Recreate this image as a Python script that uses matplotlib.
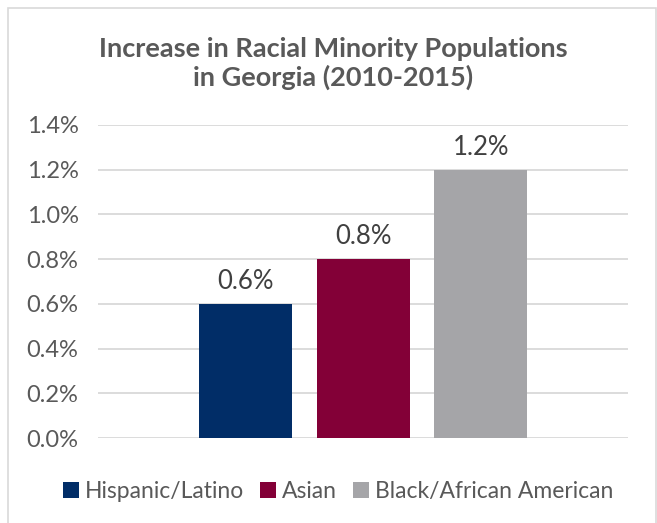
import matplotlib.pyplot as plt
from matplotlib.patches import Rectangle
from matplotlib.ticker import FuncFormatter

# percent increase 2010-2015, one series per group
groups = ['Hispanic/Latino', 'Asian', 'Black/African American']
increase = [0.6, 0.8, 1.2]
colors = ['#012D67', '#830037', '#A5A5A8']
yticks = [0.0, 0.2, 0.4, 0.6, 0.8, 1.0, 1.2, 1.4]

plt.rcParams['font.family'] = ['Lato', 'DejaVu Sans']
txt = '#595959'

fig = plt.figure(figsize=(6.57, 5.23), dpi=100)
ax = fig.add_axes([0.1492, 0.1625, 0.8067, 0.5985])

# light outer frame
fig.patches.append(Rectangle((8 / 657, -0.01), (648 / 657), 1 - 8 / 523 + 0.01,
                             transform=fig.transFigure, fill=False,
                             edgecolor='#D9D9D9', lw=1.2))

pitch = 1.265
for i, (g, v, c) in enumerate(zip(groups, increase, colors)):
    x = (i - 1) * pitch
    ax.bar(x, v, width=1.0, color=c, label=g, zorder=3)
    ax.text(x, v + 0.045, '%.1f%%' % v, ha='center', va='bottom',
            fontsize=18.5, color='#404040')

ax.set_xlim(-2.85, 2.85)
ax.set_ylim(0, 1.4)
ax.set_yticks(yticks)
ax.yaxis.set_major_formatter(FuncFormatter(lambda v, p: '%.1f%%' % v))
ax.grid(axis='y', color='#D9D9D9', lw=1.3, zorder=0)
ax.set_xticks([])
for s in ax.spines.values():
    s.set_visible(False)
ax.tick_params(axis='y', length=0, pad=14, labelsize=17, labelcolor=txt)

fig.text(0.507, 0.879, 'Increase in Racial Minority Populations\nin Georgia (2010-2015)',
         ha='center', va='center', fontsize=19.5, fontweight='bold', color=txt,
         linespacing=1.15)

leg = fig.legend(loc='center', bbox_to_anchor=(0.515, 0.061), ncol=3, frameon=False,
                 fontsize=16.5, handlelength=0.7, handleheight=0.7, handletextpad=0.25,
                 columnspacing=0.7)
for t in leg.get_texts():
    t.set_color(txt)

fig.savefig('out.png', dpi=100)
